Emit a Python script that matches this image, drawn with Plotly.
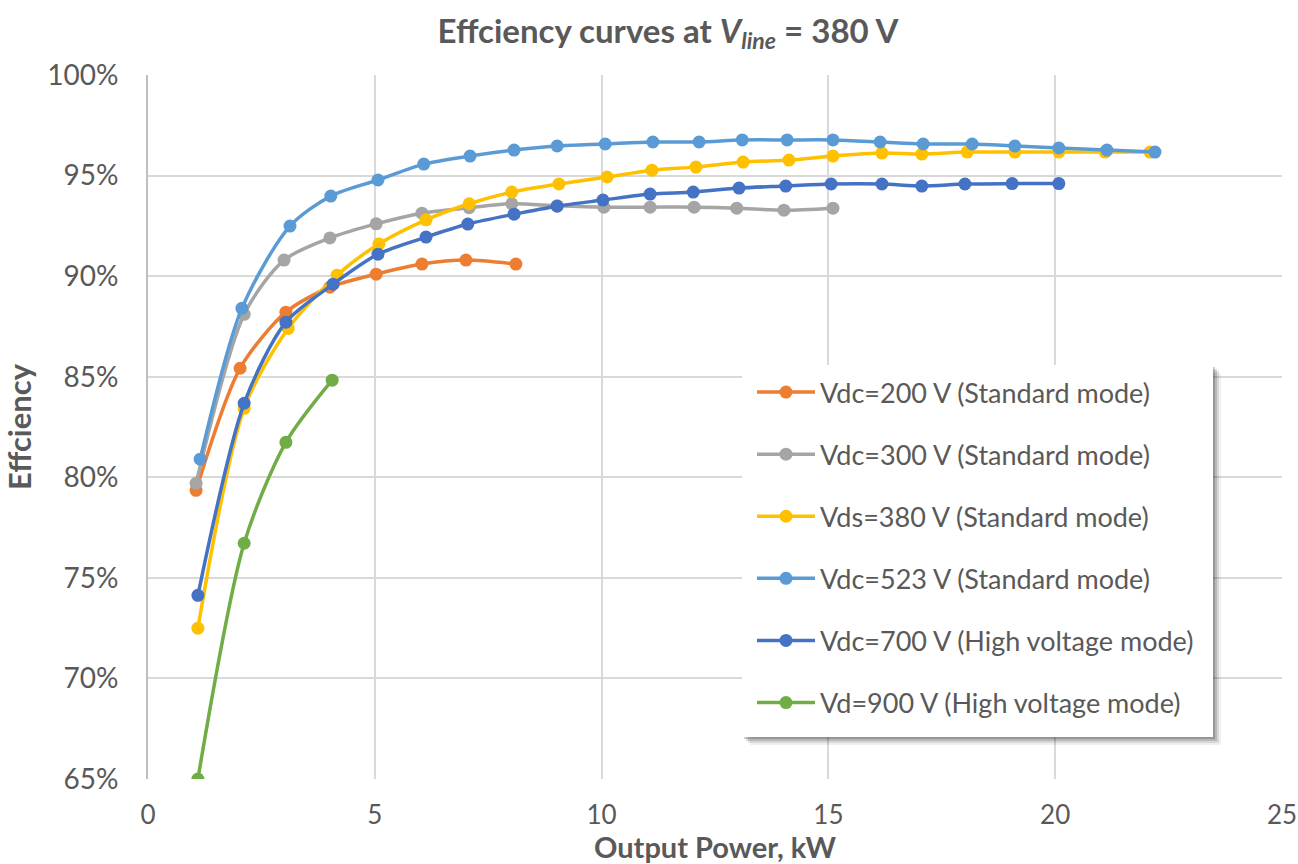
import plotly.graph_objects as go

# ---- data ----
x_200 = [1.06, 2.03, 3.04, 4.01, 5.03, 6.04, 7.01, 8.11]
y_200 = [79.35, 85.42, 88.21, 89.45, 90.10, 90.60, 90.80, 90.60]

x_300 = [1.06, 2.12, 3.00, 4.01, 5.03, 6.04, 7.08, 8.02, 9.02, 10.05, 11.07, 12.04, 12.98, 14.02, 15.10]
y_300 = [79.70, 88.10, 90.80, 91.90, 92.60, 93.13, 93.40, 93.60, 93.50, 93.43, 93.43, 93.43, 93.38, 93.28, 93.38]

x_380 = [1.10, 2.12, 3.09, 4.17, 5.09, 6.13, 7.08, 8.02, 9.06, 10.12, 11.11, 12.08, 13.12, 14.13, 15.10,
         16.18, 17.06, 18.06, 19.11, 20.08, 21.10, 22.09]
y_380 = [72.50, 83.43, 87.40, 90.05, 91.60, 92.80, 93.60, 94.18, 94.58, 94.93, 95.27, 95.42, 95.67, 95.77, 95.97,
         96.12, 96.07, 96.17, 96.17, 96.17, 96.17, 96.17]

x_523 = [1.15, 2.07, 3.13, 4.03, 5.07, 6.08, 7.10, 8.07, 9.02, 10.08, 11.13, 12.15, 13.10, 14.09, 15.10,
         16.14, 17.09, 18.17, 19.11, 20.08, 21.14, 22.20]
y_523 = [80.90, 88.40, 92.49, 93.98, 94.78, 95.57, 95.97, 96.27, 96.47, 96.57, 96.67, 96.67, 96.77, 96.77, 96.77,
         96.67, 96.57, 96.57, 96.47, 96.37, 96.27, 96.17]

x_700 = [1.10, 2.12, 3.04, 4.08, 5.07, 6.13, 7.05, 8.07, 9.02, 10.03, 11.07, 12.02, 13.03, 14.06, 15.06,
         16.18, 17.06, 18.01, 19.05, 20.08]
y_700 = [74.13, 83.68, 87.71, 89.60, 91.09, 91.94, 92.59, 93.08, 93.48, 93.78, 94.08, 94.18, 94.38, 94.48, 94.58,
         94.58, 94.48, 94.58, 94.60, 94.60]

x_900 = [1.10, 2.12, 3.04, 4.06]
y_900 = [65.00, 76.72, 81.74, 84.83]

series_names = ["Vdc=200 V (Standard mode)", "Vdc=300 V (Standard mode)", "Vds=380 V (Standard mode)",
                "Vdc=523 V (Standard mode)", "Vdc=700 V (High voltage mode)", "Vd=900 V (High voltage mode)"]
series_x = [x_200, x_300, x_380, x_523, x_700, x_900]
series_y = [y_200, y_300, y_380, y_523, y_700, y_900]
colors = ["#ED7D31", "#A5A5A5", "#FFC000", "#5B9BD5", "#4472C4", "#70AD47"]

x_ticks = [0, 5, 10, 15, 20, 25]
y_ticks = [65, 70, 75, 80, 85, 90, 95, 100]

FONT = "Lato"
TXT = "#595959"

fig = go.Figure()
for i, (nm, xs, ys, c) in enumerate(zip(series_names, series_x, series_y, colors)):
    fig.add_trace(go.Scatter(
        x=xs, y=ys, name=nm, mode="lines+markers",
        line=dict(color=c, width=3.5, shape="spline", smoothing=0.8),
        marker=dict(color=c, size=13),
        legendgroup=f"g{i}",
    ))

W, H = 1298, 864
L, R, T, B = 148, 1282, 75, 779

def px2paper(px, py):
    return (px - L) / (R - L), (B - py) / (B - T)

# legend box with soft shadow
for off, op in [(8, 0.06), (6, 0.10), (4, 0.14), (2, 0.18)]:
    x0, y0 = px2paper(742 + off, 365 + off)
    x1, y1 = px2paper(1213 + off, 737 + off)
    fig.add_shape(type="rect", xref="paper", yref="paper", x0=x0, y0=y1, x1=x1, y1=y0,
                  fillcolor=f"rgba(0,0,0,{op})", line=dict(width=0), layer="above")
x0, y0 = px2paper(742, 365)
x1, y1 = px2paper(1213, 737)
fig.add_shape(type="rect", xref="paper", yref="paper", x0=x0, y0=y1, x1=x1, y1=y0,
              fillcolor="white", line=dict(width=0), layer="above")

lx, ly = px2paper(752, 368)

fig.update_layout(
    width=W, height=H,
    margin=dict(l=L, r=W - R, t=T, b=H - B, autoexpand=False),
    paper_bgcolor="white", plot_bgcolor="white",
    font=dict(family=FONT, color=TXT),
    title=dict(
        text="<b>Effciency curves at <i>V</i><sub><i>line</i></sub> = 380 V</b>",
        x=668 / W, xref="container", xanchor="center",
        y=1 - 31 / H, yref="container", yanchor="middle",
        font=dict(family=FONT, size=33, color=TXT),
    ),
    xaxis=dict(
        range=[0, 25], tickvals=x_ticks, ticktext=[str(v) for v in x_ticks],
        showgrid=True, gridcolor="#D9D9D9", gridwidth=2,
        showline=False, zeroline=False, automargin=False,
        tickfont=dict(size=26, color=TXT), ticklabelstandoff=18, ticklabeloverflow="allow",
        title=dict(text="<b>Output Power, kW</b>", font=dict(size=29, color=TXT), standoff=4),
    ),
    yaxis=dict(
        range=[65, 100], tickvals=y_ticks, ticktext=[f"{v}%" for v in y_ticks],
        showgrid=True, gridcolor="#D9D9D9", gridwidth=2,
        showline=True, linecolor="#BFBFBF", linewidth=2, zeroline=False, automargin=False,
        tickfont=dict(size=28, color=TXT), ticklabelstandoff=22,
        title=dict(text="<b>Effciency</b>", font=dict(size=31, color=TXT), standoff=8),
    ),
    legend=dict(
        x=lx, y=ly, xanchor="left", yanchor="top",
        bgcolor="rgba(0,0,0,0)", borderwidth=0,
        font=dict(size=27, color=TXT, family=FONT),
        tracegroupgap=24, itemwidth=58,
    ),
    showlegend=True,
)

fig.write_html("out.html")
